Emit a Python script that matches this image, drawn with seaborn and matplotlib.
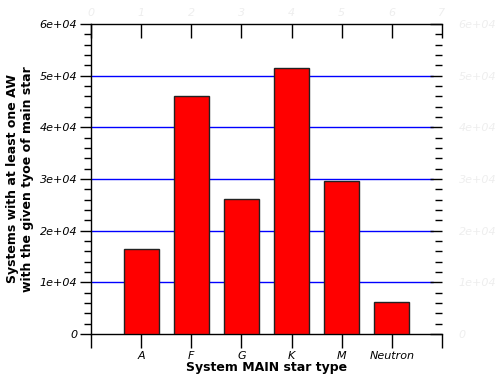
import numpy as np
import pandas as pd
import seaborn as sns
import matplotlib
matplotlib.use('Agg')
import matplotlib.pyplot as plt
from matplotlib.ticker import MultipleLocator, FuncFormatter

# Values
STAR_TYPES = ['A', 'F', 'G', 'K', 'M', 'Neutron']
SYSTEM_COUNTS = [16500, 46000, 26100, 51500, 29600, 6200]
TOP_TICKS = list(range(0, 8))
Y_MAX = 60000


def fmt_y(v, pos):
    return '0' if v == 0 else f'{v:.0e}'


def main():
    sns.set_style('white')
    plt.rcParams['font.family'] = ['DejaVu Sans']
    plt.rcParams['text.color'] = 'black'
    plt.rcParams['axes.labelcolor'] = 'black'
    plt.rcParams['xtick.color'] = 'black'
    plt.rcParams['ytick.color'] = 'black'

    df = pd.DataFrame({'type': STAR_TYPES, 'count': SYSTEM_COUNTS})

    fig = plt.figure(figsize=(5, 3.8), dpi=100)
    ax = fig.add_axes([0.182, 0.121, 0.702, 0.816])

    sns.barplot(data=df, x='type', y='count', color='red', saturation=1,
                width=0.7, edgecolor='#222222', linewidth=1, ax=ax, zorder=3)

    n = len(STAR_TYPES)
    ax.set_xlim(-1, n)
    ax.set_ylim(0, Y_MAX)
    ax.set_xticks(range(-1, n + 1))
    ax.set_xticklabels([''] + STAR_TYPES + [''], fontstyle='italic', fontsize=8,
                       color='black')
    ax.yaxis.set_major_locator(MultipleLocator(10000))
    ax.yaxis.set_minor_locator(MultipleLocator(2000))
    ax.yaxis.set_major_formatter(FuncFormatter(fmt_y))
    for t in ax.get_yticklabels():
        t.set_fontstyle('italic')
        t.set_fontsize(8)
        t.set_color('black')

    ax.tick_params(axis='x', which='major', direction='out', length=10,
                   width=1, color='black', bottom=True, pad=2)
    ax.tick_params(axis='y', which='major', direction='out', length=8,
                   width=1, color='black', left=True, pad=2)
    ax.tick_params(axis='y', which='minor', direction='out', length=5,
                   width=1, color='black', left=True)

    ax.grid(False)
    for v in range(10000, Y_MAX, 10000):
        ax.axhline(v, xmax=0.974, color='blue', lw=1, zorder=1)

    for side in ['left', 'bottom', 'top']:
        ax.spines[side].set_color('black')
        ax.spines[side].set_linewidth(1)
    ax.spines['right'].set_visible(False)

    ax.set_xlabel('System MAIN star type', fontweight='bold', fontsize=9,
                  labelpad=0, color='black')
    ax.set_ylabel('Systems with at least one AW\nwith the given tyoe of main star',
                  fontweight='bold', fontsize=9, labelpad=4, color='black')

    # faint top axis
    top = ax.twiny()
    top.set_xlim(TOP_TICKS[0], TOP_TICKS[-1])
    top.set_xticks(TOP_TICKS)
    top.set_xticklabels([str(t) for t in TOP_TICKS], fontstyle='italic',
                        fontsize=8, color='#eeeeee')
    top.tick_params(axis='x', direction='in', length=10, width=1, color='black', pad=4)
    for s in top.spines.values():
        s.set_visible(False)

    # faint right axis
    right = ax.twinx()
    right.set_ylim(0, Y_MAX)
    right.yaxis.set_major_locator(MultipleLocator(10000))
    right.yaxis.set_minor_locator(MultipleLocator(2000))
    right.yaxis.set_major_formatter(FuncFormatter(fmt_y))
    for t in right.get_yticklabels():
        t.set_fontstyle('italic')
        t.set_fontsize(8)
        t.set_color('#eeeeee')
    right.tick_params(axis='y', which='major', direction='in', length=9,
                      width=1, color='black', right=True, pad=12)
    right.tick_params(axis='y', which='minor', direction='in', length=5,
                      width=1, color='black', right=True)
    for s in right.spines.values():
        s.set_visible(False)

    fig.savefig('out.png', dpi=100)


if __name__ == '__main__':
    main()
